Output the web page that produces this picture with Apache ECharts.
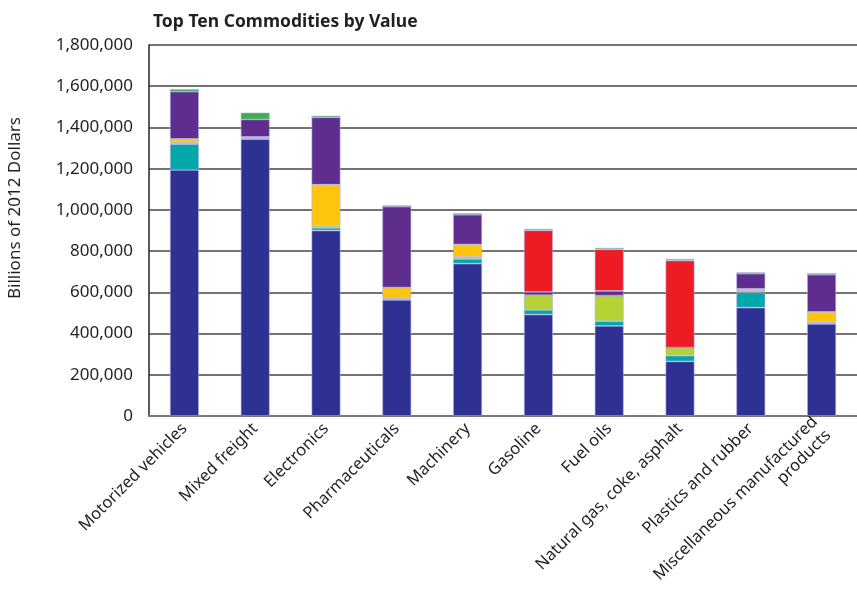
<!DOCTYPE html>
<html>
<head>
<meta charset="utf-8">
<script src="https://cdn.jsdelivr.net/npm/echarts@6/dist/echarts.min.js"></script>
<style>html,body{margin:0;padding:0;background:#fff;}#c{width:857px;height:611px;}</style>
</head>
<body>
<div id="c"></div>
<script>
var categories = ['Motorized vehicles', 'Mixed freight', 'Electronics', 'Pharmaceuticals', 'Machinery', 'Gasoline', 'Fuel oils', 'Natural gas, coke, asphalt', 'Plastics and rubber', 'Miscellaneous manufactured\nproducts'];
var yTicks = [0, 200000, 400000, 600000, 800000, 1000000, 1200000, 1400000, 1600000, 1800000];
var truck = [1194000, 1343000, 900000, 563000, 739000, 492000, 437000, 265000, 526000, 447000];
var rail = [125000, 3000, 13000, 5000, 23000, 23000, 23000, 28000, 74000, 5000];
var water = [10000, 3000, 10000, 5000, 10000, 71000, 124000, 39000, 7000, 4000];
var air = [15000, 5000, 199000, 50000, 60000, 0, 0, 0, 10000, 49000];
var multiple = [230000, 85000, 327000, 393000, 145000, 16000, 23000, 0, 74000, 181000];
var pipeline = [0, 0, 0, 0, 0, 299000, 202000, 422000, 0, 0];
var other = [12000, 33000, 8000, 6000, 7000, 7000, 7000, 8000, 6000, 7000];

var seriesDefs = [
  ['Truck', truck, '#2e3192'],
  ['Rail', rail, '#00a8ac'],
  ['Water', water, '#b5d334'],
  ['Air', air, '#fdc50c'],
  ['Multiple modes & mail', multiple, '#5e2d8e'],
  ['Pipeline', pipeline, '#ed1c24'],
  ['Other and unknown', other, '#37b34a']
];
var FONT = 'Noto Sans';
var chart = echarts.init(document.getElementById('c'), null, {renderer: 'canvas'});
chart.setOption({
  backgroundColor: '#fff',
  animation: false,
  title: {
    text: 'Top Ten Commodities by Value',
    left: 148, top: 8,
    textStyle: {fontFamily: FONT, fontWeight: 'bold', fontSize: 17.5, color: '#231f20'}
  },
  graphic: [{
    type: 'text', left: 7, top: 117, rotation: Math.PI / 2,
    style: {text: 'Billions of 2012 Dollars', font: '17px "' + FONT + '"', fill: '#231f20'}
  }],
  grid: {left: 149, top: 45, right: -6, bottom: 195},
  xAxis: {
    type: 'category', data: categories,
    axisLine: {lineStyle: {color: '#777', width: 2}},
    axisTick: {show: false},
    axisLabel: {rotate: 45, interval: 0, margin: 10, fontFamily: FONT, fontSize: 16.5, color: '#231f20', align: 'right', lineHeight: 19}
  },
  yAxis: {
    type: 'value', min: 0, max: 1800000, interval: 200000,
    axisLine: {show: true, lineStyle: {color: '#222', width: 1.5}},
    axisTick: {show: false},
    splitLine: {lineStyle: {color: '#444', width: 1.5}},
    axisLabel: {margin: 16, fontFamily: FONT, fontSize: 17, color: '#231f20',
      formatter: function (v) { return yTicks.indexOf(v) >= 0 ? v.toLocaleString('en-US') : ''; }}
  },
  series: seriesDefs.map(function (d) {
    return {
      name: d[0], type: 'bar', stack: 'total', data: d[1], barWidth: 29,
      itemStyle: {color: d[2], borderColor: 'rgba(170,170,225,0.7)', borderWidth: 0.8}
    };
  })
});
</script>
</body>
</html>
